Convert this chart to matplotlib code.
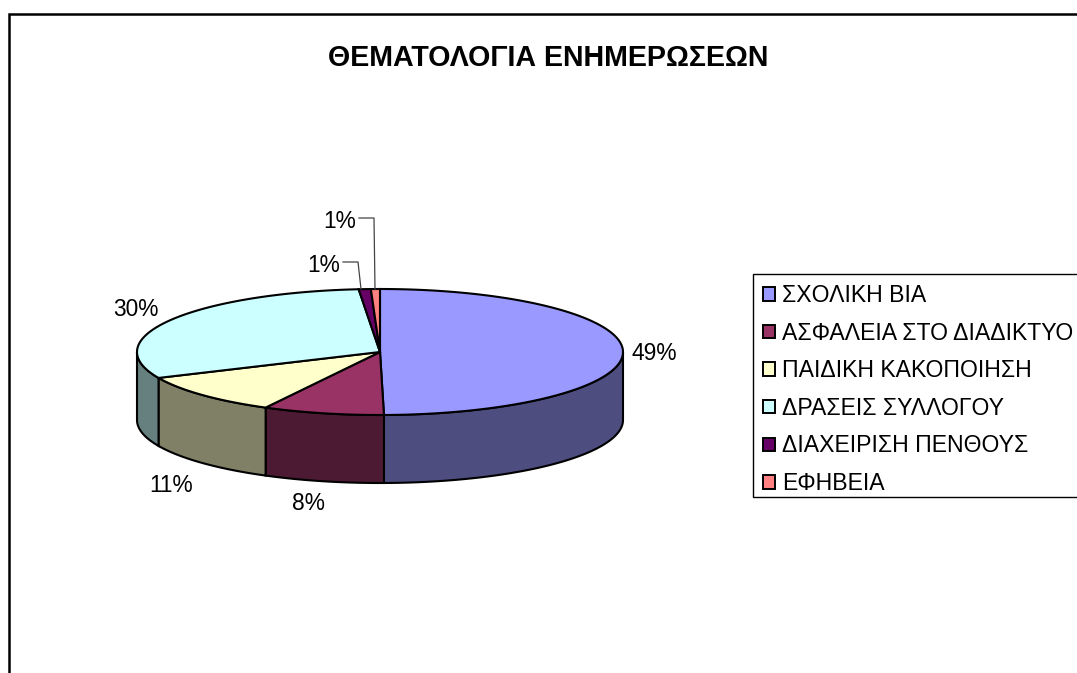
import numpy as np
import matplotlib
matplotlib.use('Agg')
import matplotlib.pyplot as plt
from matplotlib.patches import Polygon, Patch, Rectangle

plt.rcParams['font.family'] = ['Liberation Sans', 'DejaVu Sans']

title = 'ΘΕΜΑΤΟΛΟΓΙΑ ΕΝΗΜΕΡΩΣΕΩΝ'
categories = ['ΣΧΟΛΙΚΗ ΒΙΑ', 'ΑΣΦΑΛΕΙΑ ΣΤΟ ΔΙΑΔΙΚΤΥΟ', 'ΠΑΙΔΙΚΗ ΚΑΚΟΠΟΙΗΣΗ',
              'ΔΡΑΣΕΙΣ ΣΥΛΛΟΓΟΥ', 'ΔΙΑΧΕΙΡΙΣΗ ΠΕΝΘΟΥΣ', 'ΕΦΗΒΕΙΑ']
values = [49.74, 8.06, 10.45, 30.35, 0.8, 0.6]
labels = ['49%', '8%', '11%', '30%', '1%', '1%']
colors = ['#9999FF', '#993366', '#FFFFCC', '#CCFFFF', '#660066', '#FF8080']
side_colors = ['#4D4D80', '#4D1A33', '#808066', '#668080', '#330033', '#804040']

# axes in image pixels
W, H = 1077, 673
fig = plt.figure(figsize=(W/100, H/100), dpi=100)
ax = fig.add_axes([0, 0, 1, 1])
ax.set_xlim(0, W)
ax.set_ylim(H, 0)
ax.axis('off')

cx, cy = 380, 352
rx, ry = 243, 63
depth = 68

def arc(a, b, dy=0):
    # angles clockwise from the top, degrees
    t = np.radians(np.linspace(a, b, 200))
    return np.column_stack((cx + rx*np.sin(t), cy - ry*np.cos(t) + dy))

edges = np.concatenate(([0], np.cumsum(values)))/np.sum(values)*360

# side walls, only the front half shows
for i in range(len(values)):
    a = max(edges[i], 90)
    b = min(edges[i+1], 270)
    if b > a:
        pts = np.vstack((arc(a, b), arc(a, b, depth)[::-1]))
        ax.add_patch(Polygon(pts, closed=True, fc=side_colors[i], ec='black', lw=1.5, zorder=2))

# top face
for i in range(len(values)):
    pts = np.vstack(([[cx, cy]], arc(edges[i], edges[i+1])))
    ax.add_patch(Polygon(pts, closed=True, fc=colors[i], ec='black', lw=1.5, zorder=3))

# outer frame, runs off the image
ax.plot([8.5, 8.5, W+5], [H+5, 14, 14], color='black', lw=1.8, clip_on=False, solid_joinstyle='miter')

ax.text(548.5, 58, title, ha='center', va='center', fontsize=20.6, fontweight='bold')

label_pos = [(654, 353), (308, 504), (171, 485), (136, 310), (324, 265), (340, 222)]
for s, (x, y) in zip(labels, label_pos):
    ax.text(x, y, s, ha='center', va='center', fontsize=16.4)

# leader lines for the two small slices
ax.plot([343, 358, 361], [262, 262, 289], color='#444444', lw=0.9, zorder=4)
ax.plot([359, 374, 375], [218, 218, 289], color='#444444', lw=0.9, zorder=4)

# legend box drawn apart, it is not centred on its rows
ax.add_patch(Rectangle((753, 274), 340, 223, fc='white', ec='black', lw=1.0, zorder=4))
handles = [Patch(fc=c, ec='black', lw=1.4) for c in colors]
leg = ax.legend(handles, categories, loc='upper left', bbox_to_anchor=(763, 284),
                bbox_transform=ax.transData, fontsize=16.6, frameon=False,
                borderaxespad=0, borderpad=0,
                labelspacing=0.634, handlelength=0.52, handleheight=0.52, handletextpad=0.32)
leg.set_zorder(5)

fig.savefig('out.png', dpi=100)
